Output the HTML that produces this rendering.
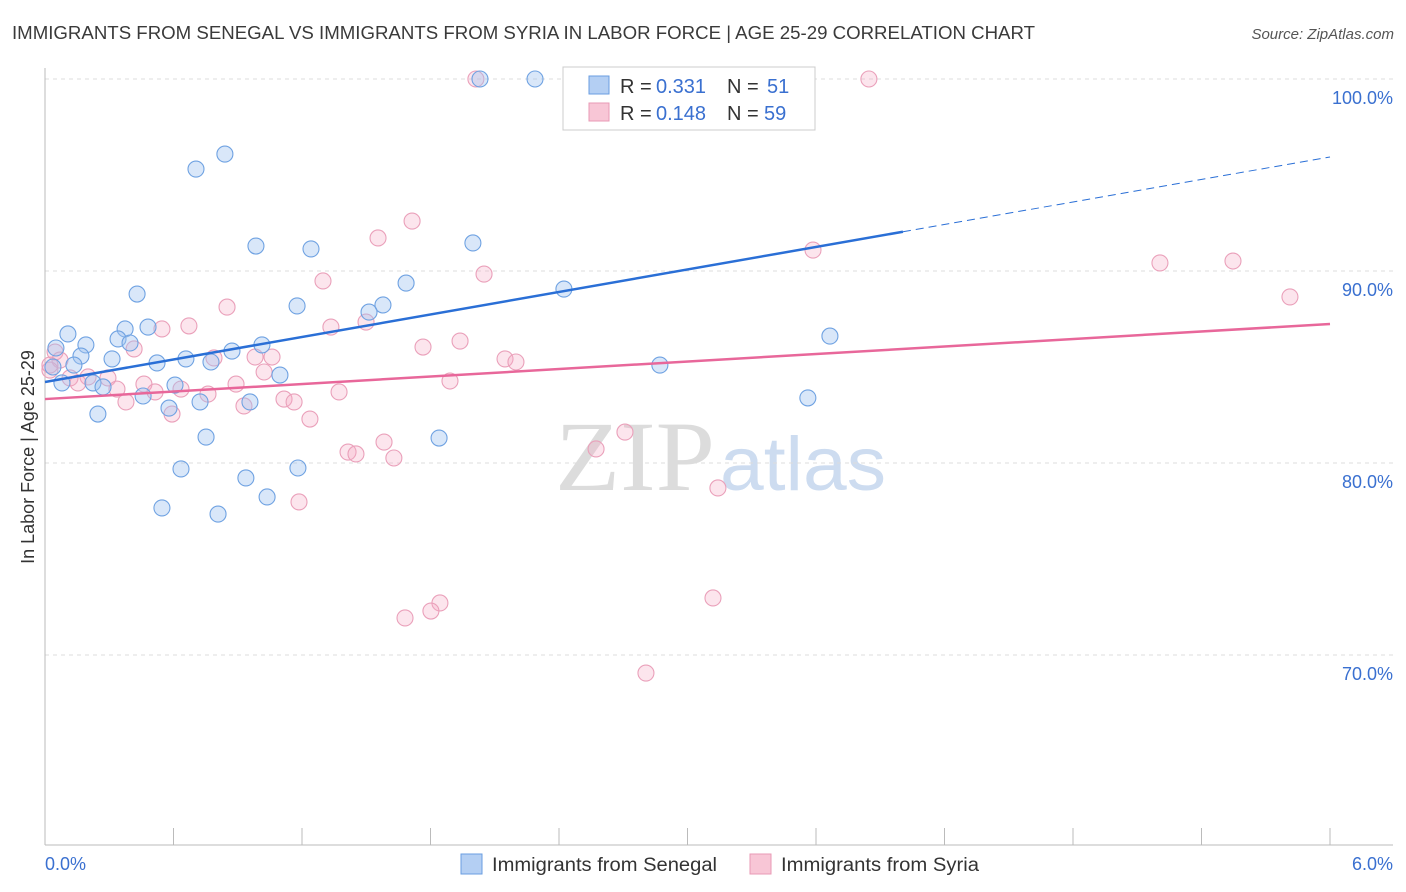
<!DOCTYPE html>
<html><head><meta charset="utf-8"><style>
body{margin:0;background:#fff;font-family:"Liberation Sans",sans-serif;}
svg{display:block}
</style></head><body>
<svg id="chart" width="1406" height="892" xmlns="http://www.w3.org/2000/svg">
<text x="12" y="39" font-size="18" fill="#3a3a3a" textLength="1023" lengthAdjust="spacingAndGlyphs">IMMIGRANTS FROM SENEGAL VS IMMIGRANTS FROM SYRIA IN LABOR FORCE | AGE 25-29 CORRELATION CHART</text>
<text x="1394" y="39" font-size="15" fill="#555" text-anchor="end" font-style="italic">Source: ZipAtlas.com</text>
<g>
<text x="555" y="490" font-size="100" fill="#dcdcdc" font-family="Liberation Serif,serif" textLength="160" lengthAdjust="spacingAndGlyphs">ZIP</text>
<text x="720" y="490" font-size="76" fill="#cddcf0" textLength="166" lengthAdjust="spacingAndGlyphs">atlas</text>
</g>
<g id="grid"></g>
<g id="axes"></g>
<g id="pts"></g>
<g id="trend"></g>
<text transform="translate(34,457) rotate(-90)" font-size="18" fill="#333" text-anchor="middle">In Labor Force | Age 25-29</text>
<g>
<rect x="563" y="67" width="252" height="63" fill="#fff" stroke="#ccc"/>
<rect x="589" y="76" width="20" height="18" fill="#b4cff3" stroke="#6a9ee0"/>
<rect x="589" y="103" width="20" height="18" fill="#f8c6d6" stroke="#e89ab5"/>
<text x="620" y="93" font-size="20" fill="#333">R =</text>
<text x="656" y="93" font-size="20" fill="#3a70d0">0.331</text>
<text x="727" y="93" font-size="20" fill="#333">N =</text>
<text x="767" y="93" font-size="20" fill="#3a70d0">51</text>
<text x="620" y="120" font-size="20" fill="#333">R =</text>
<text x="656" y="120" font-size="20" fill="#3a70d0">0.148</text>
<text x="727" y="120" font-size="20" fill="#333">N =</text>
<text x="764" y="120" font-size="20" fill="#3a70d0">59</text>
</g>
<g>
<rect x="461" y="854" width="21" height="20" fill="#b4cff3" stroke="#6a9ee0"/>
<text x="492" y="871" font-size="19" fill="#333" textLength="225" lengthAdjust="spacingAndGlyphs">Immigrants from Senegal</text>
<rect x="750" y="854" width="21" height="20" fill="#f8c6d6" stroke="#e89ab5"/>
<text x="781" y="871" font-size="19" fill="#333" textLength="198" lengthAdjust="spacingAndGlyphs">Immigrants from Syria</text>
</g>
</svg>
<script>
const senegalX=[2.031,2.288,2.708,0.840,0.705,0.985,1.242,1.998,0.430,1.177,1.686,1.578,1.513,2.423,0.107,0.374,0.481,0.341,0.191,0.397,0.051,1.013,0.873,0.168,0.313,0.523,0.658,0.775,0.135,0.037,1.097,0.079,0.224,0.271,0.607,0.458,0.957,0.724,0.579,0.247,0.752,1.840,0.635,1.181,0.938,1.037,0.546,0.808,2.871,3.665,3.562];
const senegalY=[100,100,99.95,96.09,95.31,91.30,91.15,91.46,88.80,88.18,89.37,88.23,87.86,89.06,86.72,86.98,87.08,86.46,86.15,86.25,85.99,86.15,85.83,85.57,85.42,85.21,85.42,85.26,85.10,85.0,84.58,84.17,84.17,83.96,84.06,83.49,83.18,83.18,82.86,82.55,81.35,81.30,79.69,79.74,79.22,78.23,77.66,77.34,85.10,86.61,83.39];
const syriaX=[2.012,3.847,1.714,1.555,2.050,1.298,3.586,5.206,5.547,5.813,0.850,0.672,0.546,1.335,1.499,1.765,1.938,0.416,0.047,0.070,0.981,1.060,0.789,2.148,2.199,1.023,0.023,0.117,0.201,0.294,0.154,0.336,0.462,0.635,0.514,0.892,1.891,1.373,0.761,0.378,1.116,1.163,0.929,0.593,1.237,1.583,1.415,1.452,1.629,2.708,2.573,3.142,1.186,3.119,1.844,1.802,1.681,2.806,0.023];
const syriaY=[100,100,92.60,91.72,89.84,89.48,91.09,90.42,90.52,88.65,88.12,87.14,86.98,87.08,87.34,86.04,86.35,85.94,85.78,85.36,85.52,85.52,85.47,85.42,85.26,84.74,84.84,84.43,84.48,84.43,84.17,83.85,84.11,83.85,83.70,84.11,84.27,83.70,83.59,83.18,83.33,83.18,82.97,82.55,82.29,81.09,80.57,80.47,80.26,81.61,80.73,78.70,77.97,72.97,72.71,72.29,71.93,69.06,85.1];
const yTicks=[100,90,80,70];
const xTickLabels=["0.0%","6.0%"];
const senegalTrend=[84.22,95.94];
const syriaTrend=[83.33,87.24];
const NS="http://www.w3.org/2000/svg";
const X=v=>45+v/6*1285;
const Y=v=>79+(100-v)*19.2;
function mk(tag,attrs,parent){const e=document.createElementNS(NS,tag);for(const k in attrs)e.setAttribute(k,attrs[k]);parent.appendChild(e);return e;}
const grid=document.getElementById('grid'),axes=document.getElementById('axes'),pts=document.getElementById('pts'),trend=document.getElementById('trend');
yTicks.forEach(t=>{
 const l=mk('line',{x1:45,x2:1393,y1:Y(t),y2:Y(t),stroke:'#ddd','stroke-dasharray':'4,4'},grid);
 
 
 const tx=mk('text',{x:1393,y:Y(t)+25,'font-size':18,fill:'#3a70d0','text-anchor':'end'},axes);
 tx.textContent=t.toFixed(1)+'%';
 
 
});
const ax=mk('line',{x1:45,x2:45,y1:68,y2:845,stroke:'#bbb'},axes);


const bx=mk('line',{x1:45,x2:1393,y1:845,y2:845,stroke:'#bbb'},axes);


for(let i=0;i<=10;i++){const t=mk('line',{x1:X(i*0.6),x2:X(i*0.6),y1:828,y2:845,stroke:'#bbb'},axes);
 
 }
[[0,'start',45],[6,'end',1393]].forEach((a,i)=>{const t=mk('text',{x:a[2],y:870,'font-size':18,fill:'#3a70d0','text-anchor':a[1]},axes);t.textContent=xTickLabels[i];
 
 });
function dots(xs,ys,fill,stroke,name){xs.forEach((x,i)=>{const c=mk('circle',{cx:X(x),cy:Y(ys[i]),r:8,fill:fill,stroke:stroke,'stroke-width':1.1},pts);
 
 });}
dots(syriaX,syriaY,'rgba(244,170,195,0.3)','#eaa0ba','syria-point');
dots(senegalX,senegalY,'rgba(160,195,240,0.4)','#6f a2e2'.replace(' ',''),'senegal-point');
const sl=(a,x)=>a[0]+(a[1]-a[0])*x/6;
const b1=mk('line',{x1:X(0),y1:Y(sl(senegalTrend,0)),x2:X(4.006),y2:Y(sl(senegalTrend,4.006)),stroke:'#2a6fd6','stroke-width':2.5},trend);


const b2=mk('line',{x1:X(4.006),y1:Y(sl(senegalTrend,4.006)),x2:X(6),y2:Y(sl(senegalTrend,6)),stroke:'#2a6fd6','stroke-width':1,'stroke-dasharray':'8,5'},trend);


const p1=mk('line',{x1:X(0),y1:Y(syriaTrend[0]),x2:X(6),y2:Y(syriaTrend[1]),stroke:'#e8679a','stroke-width':2.5},trend);


</script>
</body></html>
